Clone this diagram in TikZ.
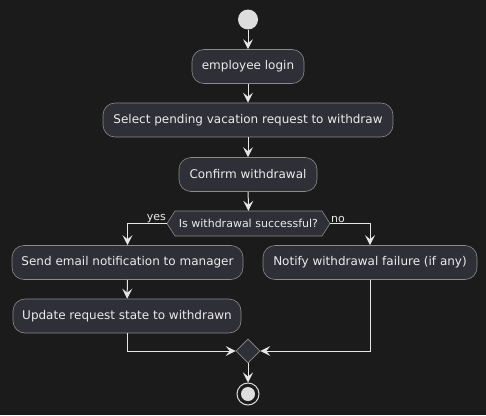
\documentclass[tikz,border=0pt]{standalone}
\usepackage{fontspec}
\setmainfont{DejaVu Sans}
\usetikzlibrary{arrows.meta,shapes.geometric}
\definecolor{bg}{HTML}{1B1B1B}
\definecolor{boxfill}{HTML}{2F2F37}
\definecolor{boxline}{HTML}{8A8A8A}
\definecolor{linec}{HTML}{E6E6E6}
\definecolor{txt}{HTML}{EBEBEB}
\definecolor{startc}{HTML}{DDDDDD}
\begin{document}
\begin{tikzpicture}[x=1pt,y=-1pt,
  act/.style={draw=boxline, fill=boxfill, text=txt, rounded corners=12pt,
    line width=0.6pt, minimum height=34pt, inner sep=0pt,
    font=\fontsize{12}{14}\selectfont},
  arr/.style={draw=linec, line width=1pt,
    -{Stealth[length=10pt,width=10pt,inset=4pt]}},
  lbl/.style={text=txt, inner sep=1pt, font=\fontsize{11}{13}\selectfont}]
\fill[bg] (0,0) rectangle (486,415);
\useasboundingbox (0,0) rectangle (486,415);

\node[circle, fill=startc, minimum size=20pt, inner sep=0pt] (start) at (248,19.5) {};
\node[act, minimum width=112pt] (emp) at (248,66.5) {employee login};
\node[act, minimum width=290pt] (sel) at (248,120) {Select pending vacation request to withdraw};
\node[act, minimum width=138pt] (conf) at (248,174.5) {Confirm withdrawal};

\coordinate (decL) at (167,223.5);
\coordinate (decR) at (330,223.5);
\filldraw[fill=boxfill, draw=boxline, line width=0.6pt]
  (decL) -- (175,211) -- (322,211) -- (decR) -- (322,236) -- (175,236) -- cycle;
\node[text=txt, inner sep=0pt, minimum width=147pt, minimum height=25pt,
  font=\fontsize{11}{13}\selectfont] (dec) at (248.5,223.5) {Is withdrawal successful?};

\node[act, minimum width=231pt] (send) at (127.5,262.5) {Send email notification to manager};
\node[act, minimum width=228pt] (upd) at (127,316) {Update request state to withdrawn};
\node[act, minimum width=214pt] (notif) at (370,262.5) {Notify withdrawal failure (if any)};

\node[diamond, draw=boxline, fill=boxfill, line width=0.6pt, minimum size=24pt, inner sep=0pt] (merge) at (248,351) {};

\node[circle, draw=startc, line width=1pt, minimum size=22pt, inner sep=0pt] (stop) at (248,394) {};
\node[circle, fill=startc, minimum size=14pt, inner sep=0pt] (stopin) at (248,394) {};

\draw[arr] (start) -- (emp);
\draw[arr] (emp) -- (sel);
\draw[arr] (sel) -- (conf);
\draw[arr] (conf) -- (dec);
\draw[arr] (decL) -| (send.north);
\draw[arr] (decR) -| (notif.north);
\draw[arr] (send) -- (upd);
\draw[arr] (upd.south) |- (merge.west);
\draw[arr] (notif.south) |- (merge.east);
\draw[arr] (merge) -- (stop);

\node[lbl, anchor=south east] at (decL) {yes};
\node[lbl, anchor=south west] at (decR) {no};
\end{tikzpicture}
\end{document}
